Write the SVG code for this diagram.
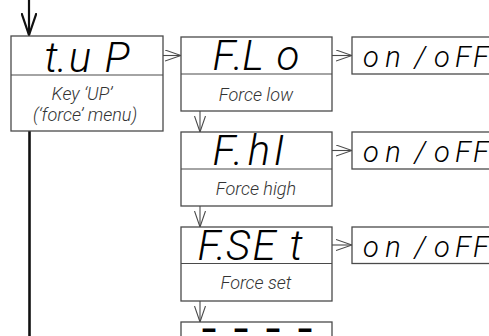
<svg xmlns="http://www.w3.org/2000/svg" width="489" height="336" viewBox="0 0 489 336">
<defs>
<style>
.box{fill:#fff;stroke:#4a4a4a;stroke-width:1.3}
.seg{font-family:Roboto,"DejaVu Sans",sans-serif;font-style:italic;font-weight:300;fill:#000;text-anchor:middle}
.big{font-size:42px}
.small{font-size:29px}
.dash{font-family:"DejaVu Sans",sans-serif;font-weight:bold;font-size:12px;fill:#000;stroke:#000;stroke-width:2;text-anchor:middle}
.lbl{font-family:Roboto,"Liberation Sans",sans-serif;font-style:italic;font-weight:300;font-size:18px;fill:#333;text-anchor:middle}
.con{stroke:#4a4a4a;stroke-width:1.1;fill:none}
</style>
<marker id="ah" viewBox="0 0 16 12" refX="16" refY="6" markerWidth="16" markerHeight="12" markerUnits="userSpaceOnUse" orient="auto">
<path d="M0,0.5 L16,6 L0,11.5" fill="none" stroke="#4a4a4a" stroke-width="1.1"/>
</marker>
<marker id="ahMain" viewBox="0 0 24 16" refX="22" refY="8" markerWidth="24" markerHeight="16" markerUnits="userSpaceOnUse" orient="auto">
<path d="M0,0.5 L22,8 L0,15.5" fill="none" stroke="#111" stroke-width="2.2"/>
</marker>
</defs>
<rect width="489" height="336" fill="#fff"/>
<g id="connectors">
<line x1="29" y1="0" x2="29" y2="35" stroke="#111" stroke-width="2.2" marker-end="url(#ahMain)"/>
<line x1="29.5" y1="131" x2="29.5" y2="336" stroke="#111" stroke-width="2.6"/>
<line class="con" x1="163" y1="55.5" x2="181" y2="55.5" marker-end="url(#ah)"/>
<line class="con" x1="332" y1="55.5" x2="352" y2="55.5" marker-end="url(#ah)"/>
<line class="con" x1="332" y1="150.5" x2="352" y2="150.5" marker-end="url(#ah)"/>
<line class="con" x1="332" y1="245" x2="352" y2="245" marker-end="url(#ah)"/>
<line class="con" x1="200" y1="111" x2="200" y2="132" marker-end="url(#ah)"/>
<line class="con" x1="200" y1="206" x2="200" y2="227" marker-end="url(#ah)"/>
<line class="con" x1="200" y1="301" x2="200" y2="322" marker-end="url(#ah)"/>
</g>
<g id="node-tup">
<rect class="box" x="11" y="36" width="152" height="95"/>
<line class="con" x1="11" y1="75" x2="163" y2="75"/>
<text class="seg big" x="51 62 80 117" y="72">t.uP</text>
<text class="lbl" x="82" y="100">Key ‘UP’</text>
<text class="lbl" x="85" y="121">(‘force’ menu)</text>
</g>
<g id="node-flo">
<rect class="box" x="181" y="37" width="151" height="74"/>
<line class="con" x1="181" y1="74" x2="332" y2="74"/>
<text class="seg big" x="224 238 253 288" y="70">F.Lo</text>
<text class="lbl" x="256" y="100.5">Force low</text>
</g>
<g id="node-fhi">
<rect class="box" x="181" y="132" width="151" height="74"/>
<line class="con" x1="181" y1="169" x2="332" y2="169"/>
<text class="seg big" x="224 238 259 279" y="165">F.hI</text>
<text class="lbl" x="256" y="194.5">Force high</text>
</g>
<g id="node-fset">
<rect class="box" x="181" y="227" width="151" height="74"/>
<line class="con" x1="181" y1="263.5" x2="332" y2="263.5"/>
<text class="seg big" x="209 221 238 264 296" y="260">F.SEt</text>
<text class="lbl" x="256" y="289">Force set</text>
</g>
<g id="node-dashes">
<rect class="box" x="181" y="322" width="151" height="40"/>
<text class="dash" x="209 241 273 305" y="333.5">————</text>
</g>
<g id="node-onoff-1">
<rect class="box" x="352" y="37" width="150" height="37"/>
<text class="seg small" x="371 393 420 442 463 481" y="67">on/oFF</text>
</g>
<g id="node-onoff-2">
<rect class="box" x="352" y="132" width="150" height="37"/>
<text class="seg small" x="371 393 420 442 463 481" y="162">on/oFF</text>
</g>
<g id="node-onoff-3">
<rect class="box" x="352" y="227" width="150" height="36.5"/>
<text class="seg small" x="371 393 420 442 463 481" y="257">on/oFF</text>
</g>
</svg>
